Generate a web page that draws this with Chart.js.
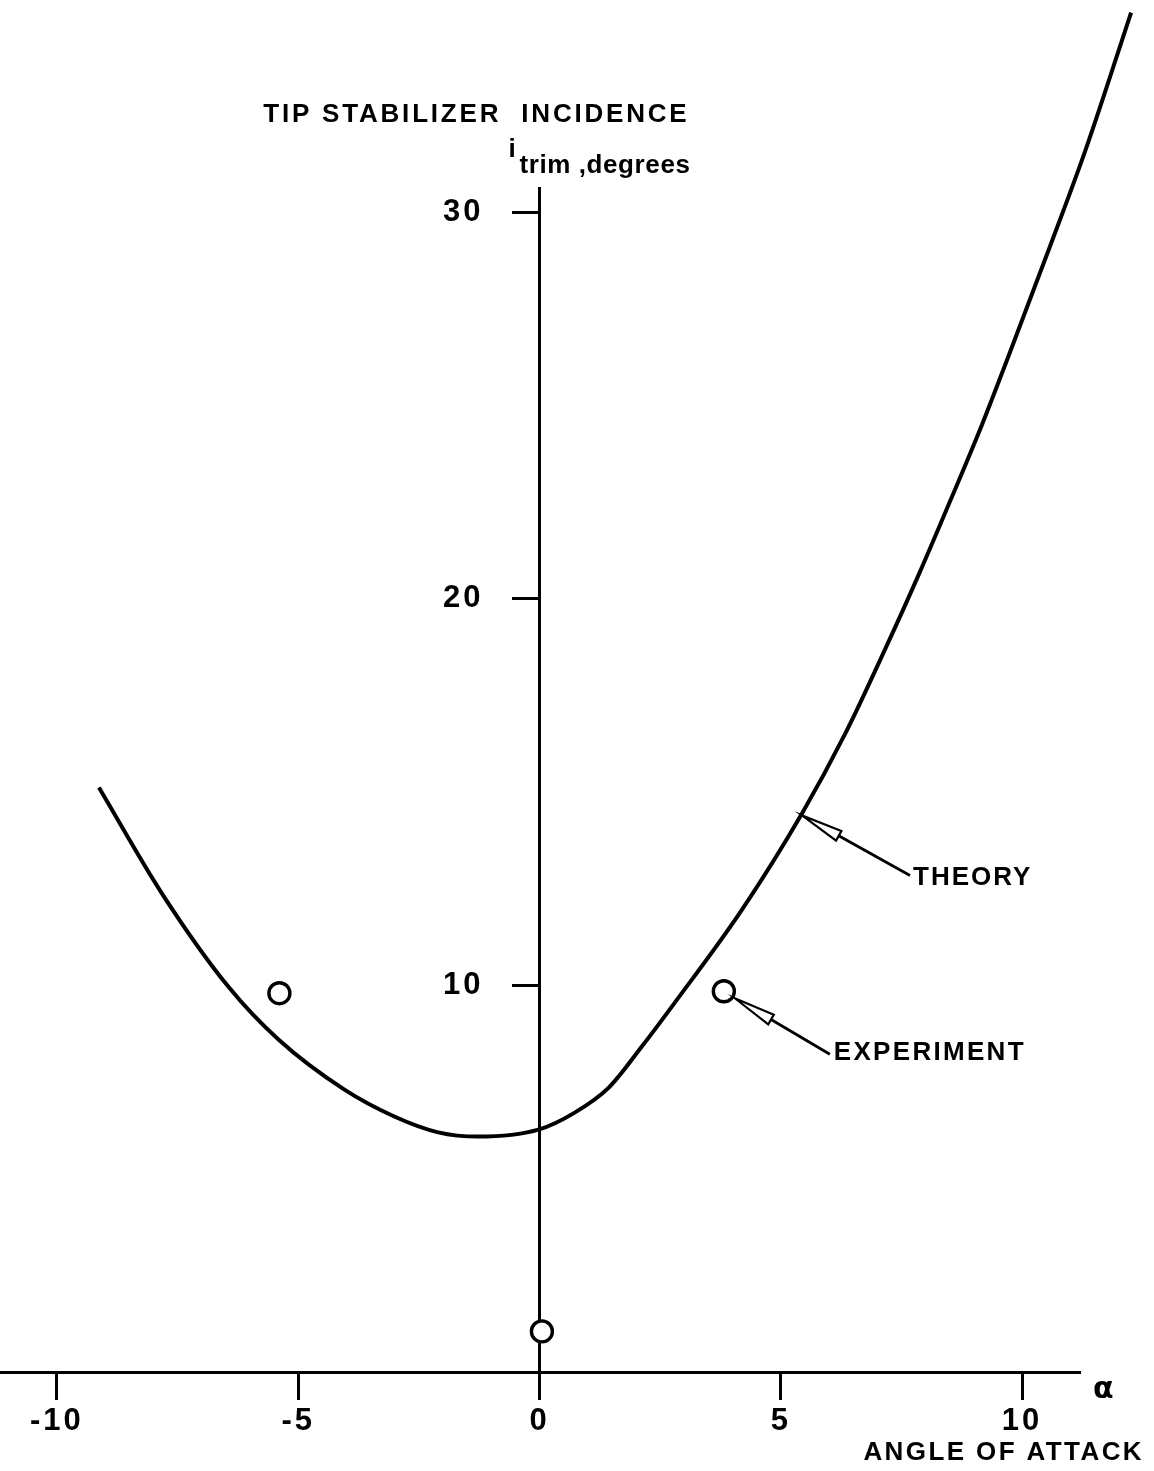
<!DOCTYPE html>
<html>
<head>
<meta charset="utf-8">
<script src="https://cdn.jsdelivr.net/npm/chart.js@4/dist/chart.umd.min.js"></script>
<style>
  html, body { margin: 0; padding: 0; background: #fff; }
  #wrap { width: 1154px; height: 1471px; position: relative; }
</style>
</head>
<body>
<div id="wrap"><canvas id="c"></canvas></div>
<script>
// Theoretical trim incidence curve (angle of attack, degrees)
const alphaTheory = [-9.13, -7.84, -6.45, -5.41, -4.05, -3.01, -2.10, -1.27, -0.02, 0.73, 1.43, 2.12, 2.80, 4.19, 5.44, 6.33, 7.17, 7.87, 8.56, 9.18, 9.74, 10.57, 11.32, 12.26];
const trimTheory  = [15.12, 12.41, 9.97, 8.60, 7.31, 6.61, 6.20, 6.09, 6.27, 6.71, 7.35, 8.42, 9.55, 11.95, 14.45, 16.50, 18.72, 20.66, 22.68, 24.54, 26.35, 29.09, 31.63, 35.17];

// Measured trim incidence
const alphaExperiment = [-5.39, 0.05, 3.82];
const trimExperiment  = [9.80, 1.05, 9.85];

// Axis ticks
const xTickValues = [-10, -5, 0, 5, 10];
const xTickLabels = ['-10', '-5', '0', '5', '10'];
const yTickValues = [10, 20, 30];
const yTickLabels = ['10', '20', '30'];

// Axis extents
const X_MIN = -11.18, X_MAX = 11.18;
const Y_MIN = 0, Y_MAX = 30.63;

const FONT = '"Liberation Sans", Arial, Helvetica, sans-serif';
const INK = '#000';

function drawSpaced(ctx, text, x, y, align, spacing) {
  ctx.letterSpacing = spacing + 'px';
  ctx.textAlign = align;
  ctx.fillText(text, x, y);
  ctx.letterSpacing = '0px';
}

function drawLeader(ctx, tipX, tipY, endX, endY) {
  const dx = endX - tipX, dy = endY - tipY;
  const len = Math.hypot(dx, dy);
  const ux = dx / len, uy = dy / len;
  const nx = -uy, ny = ux;
  const dart = 42, half = 5.5;
  const bx = tipX + ux * dart, by = tipY + uy * dart;
  ctx.beginPath();
  ctx.moveTo(tipX, tipY);
  ctx.lineTo(bx + nx * half, by + ny * half);
  ctx.lineTo(bx - nx * half, by - ny * half);
  ctx.closePath();
  ctx.fillStyle = '#fff';
  ctx.fill();
  ctx.lineWidth = 2.2;
  ctx.strokeStyle = INK;
  ctx.stroke();
  ctx.beginPath();
  ctx.moveTo(bx, by);
  ctx.lineTo(endX, endY);
  ctx.lineWidth = 2.8;
  ctx.stroke();
}

const annotations = {
  id: 'annotations',
  beforeDraw(chart) {
    // wide-set lettering for the tick numerals
    chart.ctx.letterSpacing = '3px';
  },
  afterDraw(chart) {
    const { ctx, scales: { x, y } } = chart;
    const x0 = x.getPixelForValue(0);
    ctx.save();
    ctx.fillStyle = INK;
    ctx.textBaseline = 'middle';

    // vertical axis caption
    ctx.font = 'bold 26px ' + FONT;
    drawSpaced(ctx, 'TIP STABILIZER  INCIDENCE', x0 + 150, 115, 'right', 2.8);
    ctx.textBaseline = 'alphabetic';
    drawSpaced(ctx, 'i', x0 - 31, 157, 'left', 0);
    drawSpaced(ctx, 'trim ,degrees', x0 + 151, 173, 'right', 0.6);

    // horizontal axis caption
    ctx.font = 'bold 30px "DejaVu Sans", sans-serif';
    ctx.textBaseline = 'middle';
    drawSpaced(ctx, 'α', x.right + 14, y.bottom + 18, 'left', 0);
    ctx.font = 'bold 26px ' + FONT;
    drawSpaced(ctx, 'ANGLE OF ATTACK', 1144, 1453, 'right', 2.4);

    // THEORY callout, anchored on the curve point at alpha = 5.44
    const ti = 14;
    const tx = x.getPixelForValue(alphaTheory[ti]);
    const ty = y.getPixelForValue(trimTheory[ti]);
    drawLeader(ctx, tx, ty + 2, tx + 108, ty + 62);
    ctx.fillStyle = INK;
    drawSpaced(ctx, 'THEORY', tx + 111, ty + 64, 'left', 2);

    // EXPERIMENT callout, anchored on the measured point at alpha = 3.82
    const ex = x.getPixelForValue(alphaExperiment[2]);
    const ey = y.getPixelForValue(trimExperiment[2]);
    drawLeader(ctx, ex + 11, ey + 7, ex + 106, ey + 63);
    ctx.fillStyle = INK;
    drawSpaced(ctx, 'EXPERIMENT', ex + 110, ey + 62, 'left', 2.3);
    ctx.restore();
    ctx.letterSpacing = '0px';
  }
};

new Chart(document.getElementById('c'), {
  data: {
    datasets: [
      {
        type: 'line',
        label: 'THEORY',
        data: alphaTheory.map((a, i) => ({ x: a, y: trimTheory[i] })),
        borderColor: INK,
        borderWidth: 4,
        pointRadius: 0,
        cubicInterpolationMode: 'monotone',
        fill: false,
        clip: false
      },
      {
        type: 'scatter',
        label: 'EXPERIMENT',
        data: alphaExperiment.map((a, i) => ({ x: a, y: trimExperiment[i] })),
        pointStyle: 'circle',
        pointRadius: 10.5,
        pointBorderWidth: 3.4,
        borderColor: INK,
        backgroundColor: '#fff',
        clip: false
      }
    ]
  },
  options: {
    responsive: true,
    maintainAspectRatio: false,
    animation: false,
    events: [],
    layout: { autoPadding: false, padding: { left: 0, right: 75, top: 188, bottom: 0 } },
    plugins: { legend: { display: false }, tooltip: { enabled: false }, title: { display: false } },
    scales: {
      x: {
        type: 'linear',
        position: 'bottom',
        bounds: 'data',
        // range is set here (not via min/max) so the curve keeps running past the axis end
        afterDataLimits: (s) => { s.min = X_MIN; s.max = X_MAX; },
        afterFit: (s) => { s.height = 99; s.paddingLeft = 0; s.paddingRight = 0; },
        afterBuildTicks: (s) => { s.ticks = xTickValues.map(v => ({ value: v })); },
        grid: { drawOnChartArea: false, drawTicks: true, tickLength: 28, tickWidth: 3, tickColor: INK, color: INK, lineWidth: 3 },
        border: { display: true, color: INK, width: 3 },
        ticks: {
          color: INK,
          padding: 3,
          maxRotation: 0,
          font: { family: FONT, size: 31, weight: 'bold' },
          callback: (v, i) => xTickLabels[i]
        }
      },
      y: {
        type: 'linear',
        position: 'center',
        min: Y_MIN,
        max: Y_MAX,
        afterFit: (s) => { s.width = 0; },
        afterBuildTicks: (s) => { s.ticks = yTickValues.map(v => ({ value: v })); },
        grid: { drawOnChartArea: false, drawTicks: true, tickLength: 26, tickWidth: 3, tickColor: INK, color: INK, lineWidth: 3 },
        border: { display: true, color: INK, width: 3 },
        ticks: {
          color: INK,
          padding: 30,
          font: { family: FONT, size: 31, weight: 'bold' },
          callback: (v, i) => yTickLabels[i]
        }
      }
    }
  },
  plugins: [annotations]
});
</script>
</body>
</html>
